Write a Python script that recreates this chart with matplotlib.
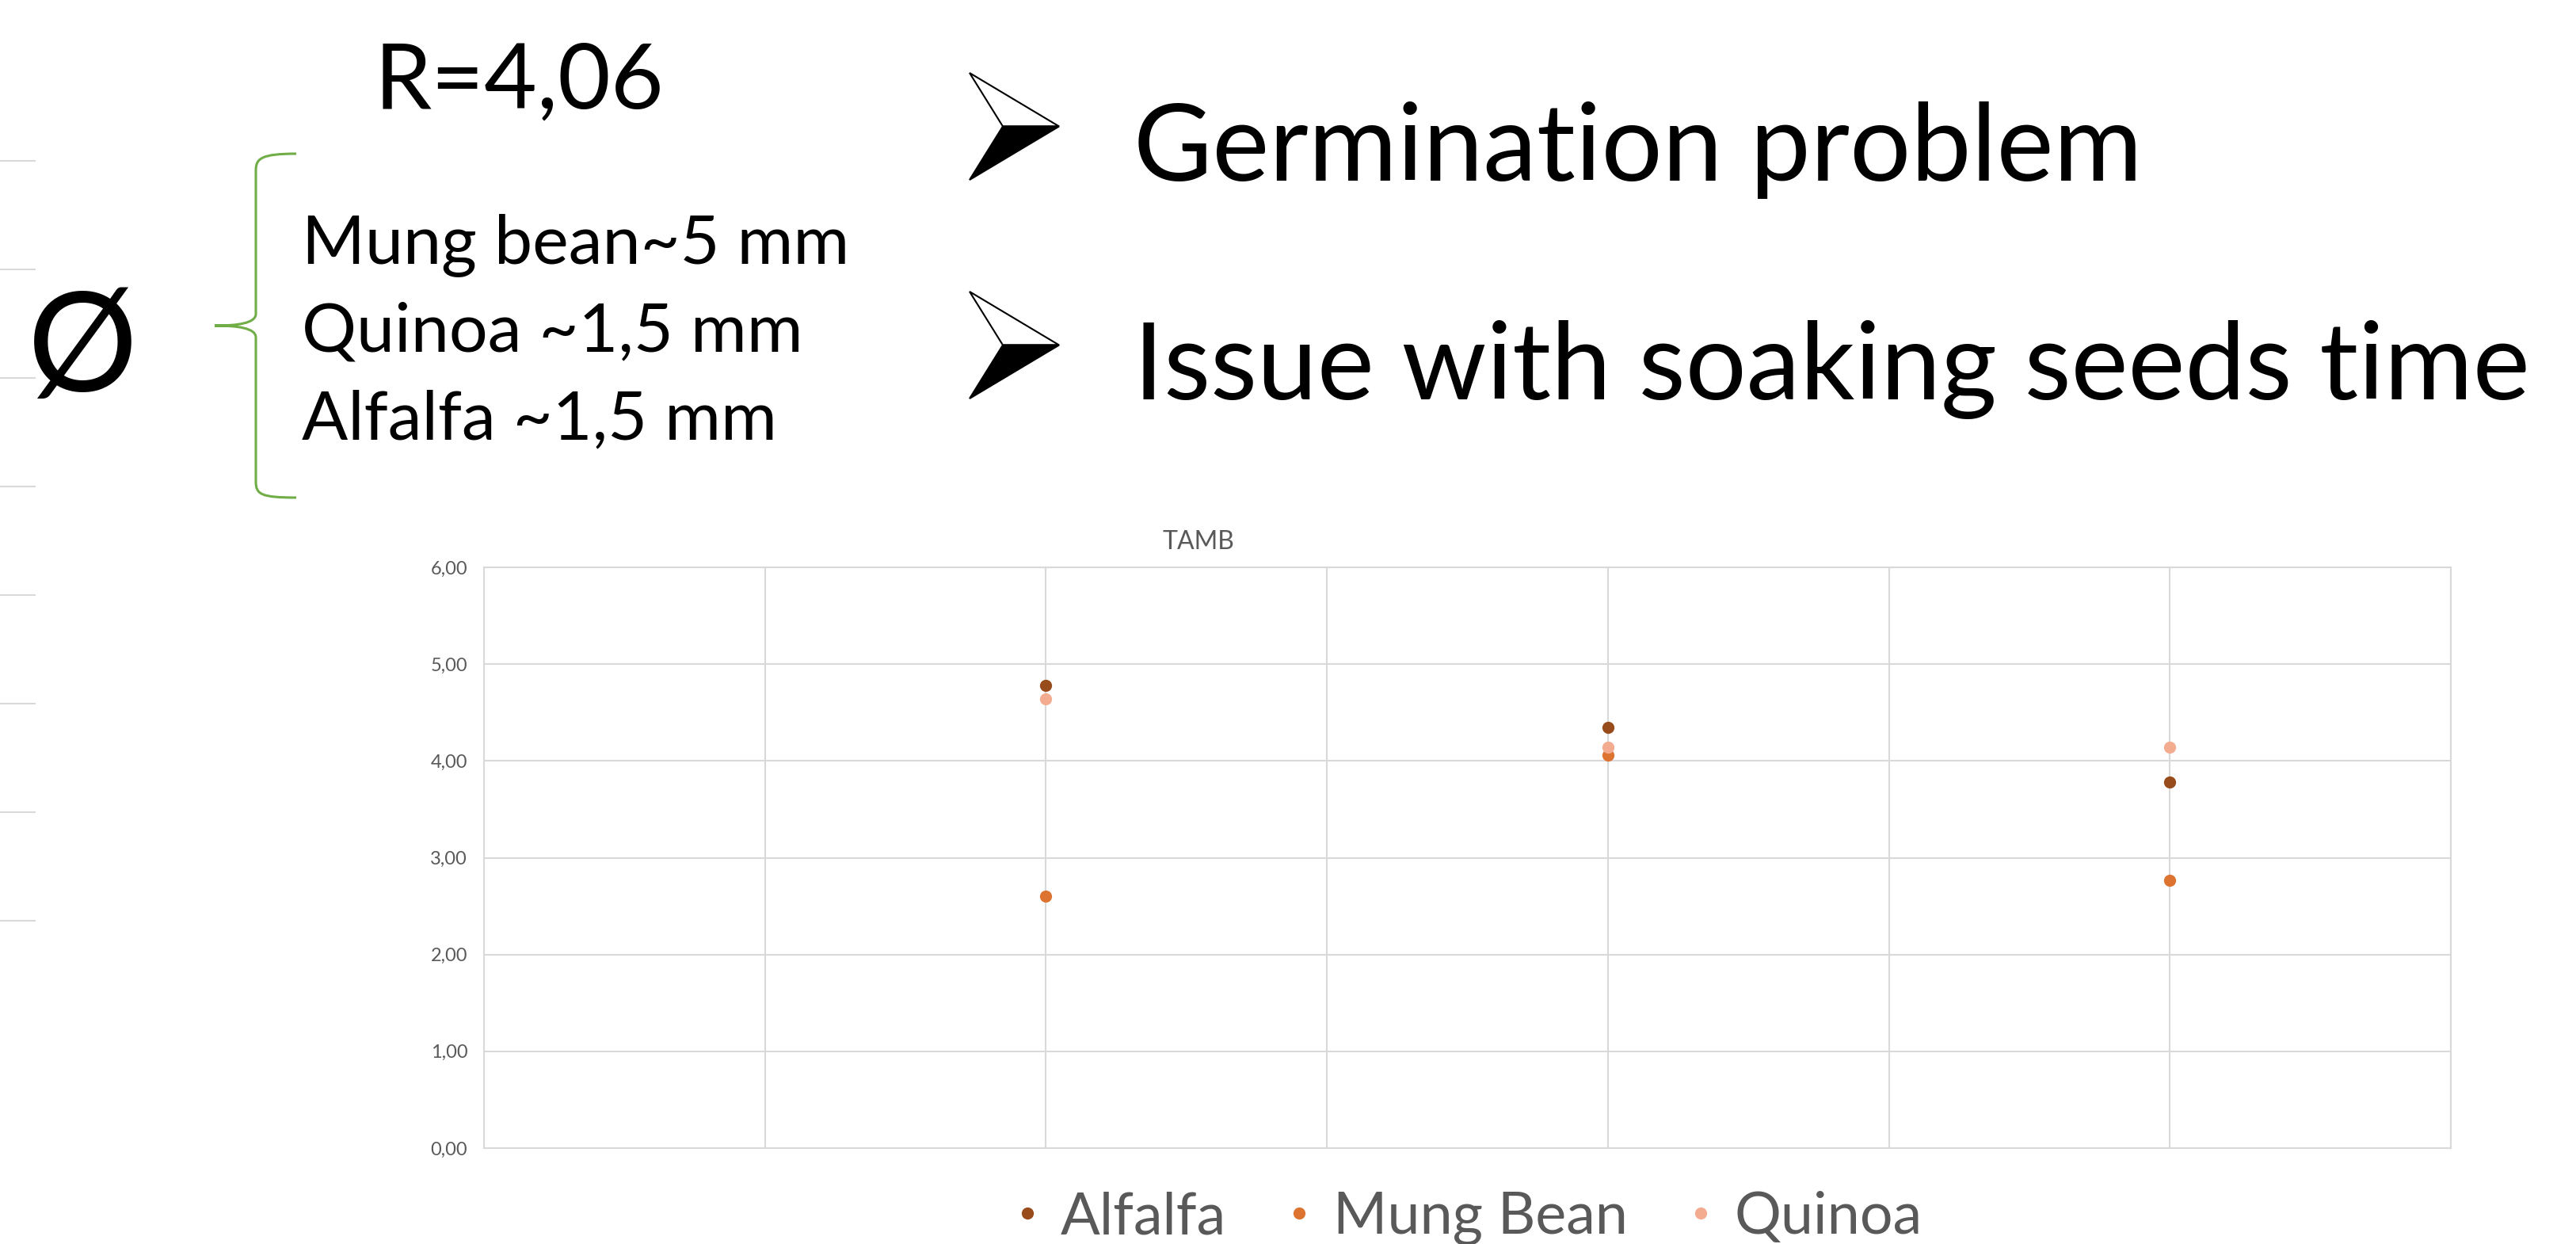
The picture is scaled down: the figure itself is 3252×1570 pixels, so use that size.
import matplotlib

matplotlib.use("Agg")
import matplotlib.pyplot as plt
import numpy as np
from matplotlib.patches import PathPatch, Polygon
from matplotlib.path import Path
from matplotlib.ticker import FuncFormatter

plt.rcParams["font.family"] = ["Lato", "DejaVu Sans"]

# ── Data ────────────────────────────────────────────────────────────────
series_names = ["Alfalfa", "Mung Bean", "Quinoa"]
series_colors = ["#984B1B", "#DC7331", "#F3AC90"]
x_positions = [1, 2, 3]
alfalfa = [4.78, 4.35, 3.78]
mung_bean = [2.60, 4.06, 2.77]
quinoa = [4.64, 4.14, 4.14]
y_ticks = [0, 1, 2, 3, 4, 5, 6]
x_grid = np.arange(0, 3.51, 0.5)

seed_sizes = ["Mung bean~5 mm", "Quinoa ~1,5 mm", "Alfalfa ~1,5 mm"]
bullets = ["Germination problem", "Issue with soaking seeds time"]
r_label = "R=4,06"

W, H = 3252, 1570
GRID = "#D9D9D9"
TEXT_GRAY = "#595959"
GREEN = "#70AD47"


def fx(x: float) -> float:
    return x / W


def fy(y: float) -> float:
    return 1 - y / H


fig = plt.figure(figsize=(W / 100, H / 100), dpi=100)
fig.patch.set_facecolor("white")

# ── Scatter chart ───────────────────────────────────────────────────────
ax = fig.add_axes([fx(611), fy(1449), (3094 - 611) / W, (1449 - 716) / H])
for name, color, vals in zip(series_names, series_colors, [alfalfa, mung_bean, quinoa]):
    ax.plot(x_positions, vals, linestyle="none", marker="o", markersize=11,
            markeredgewidth=0, color=color, label=name, zorder=3)

ax.set_xlim(0, 3.5)
ax.set_ylim(0, 6)
ax.set_xticks(x_grid)
ax.set_xticklabels([])
ax.set_yticks(y_ticks)
ax.yaxis.set_major_formatter(FuncFormatter(lambda v, _: f"{v:.2f}".replace(".", ",")))
ax.tick_params(length=0, labelsize=17, labelcolor=TEXT_GRAY, pad=15)
ax.grid(True, color=GRID, linewidth=1.5)
ax.set_axisbelow(True)
for sp in ax.spines.values():
    sp.set_color(GRID)
    sp.set_linewidth(1.5)

fig.text(fx(1513), fy(693), "TAMB", ha="center", va="baseline", fontsize=23, color=TEXT_GRAY)

ax.legend(loc="center", bbox_to_anchor=(0.5, -0.121), ncol=3, frameon=False,
          fontsize=53, labelcolor=TEXT_GRAY, handlelength=0.5, handletextpad=0.33,
          columnspacing=1.0, borderaxespad=0)

# ── Cut-off gridlines of a neighbouring chart at the left edge ─────────
stub_levels = list(range(8))
ax_stub = fig.add_axes([0, fy(1162 + 68.5), fx(45), (1162 - 203 + 137) / H])
ax_stub.set_ylim(-0.5, 7.5)
ax_stub.set_yticks(stub_levels)
ax_stub.set_xticks([])
ax_stub.tick_params(length=0, labelleft=False)
ax_stub.grid(True, axis="y", color=GRID, linewidth=1.5)
for sp in ax_stub.spines.values():
    sp.set_visible(False)
ax_stub.patch.set_alpha(0)

# ── Text block ──────────────────────────────────────────────────────────
fig.text(fx(655), fy(136), r_label, ha="center", va="baseline", fontsize=83, color="black")
fig.text(fx(104), fy(494), "Ø", ha="center", va="baseline", fontsize=125, color="black")

for i, line in enumerate(seed_sizes):
    fig.text(fx(381), fy(332 + i * 111), line, ha="left", va="baseline", fontsize=62, color="black")

# green curly brace
brace = [
    (374, 194), (330, 194), (323, 200), (323, 215),
    (323, 396),
    (323, 408), (300, 411), (271, 411),
    (300, 411), (323, 414), (323, 426),
    (323, 608),
    (323, 624), (330, 628), (374, 628),
]
codes = [Path.MOVETO, Path.CURVE4, Path.CURVE4, Path.CURVE4, Path.LINETO,
         Path.CURVE4, Path.CURVE4, Path.CURVE4, Path.CURVE4, Path.CURVE4, Path.CURVE4,
         Path.LINETO, Path.CURVE4, Path.CURVE4, Path.CURVE4]
brace_path = Path([(fx(x), fy(y)) for x, y in brace], codes)
fig.add_artist(PathPatch(brace_path, facecolor="none", edgecolor=GREEN, linewidth=2.2,
                         transform=fig.transFigure))

# bullet arrows + bullet text
for i, text in enumerate(bullets):
    top, bot = (92, 227) if i == 0 else (368, 503)
    mid = (top + bot) / 2
    x0, x1, xin = 1224, 1337, 1266
    upper = Polygon([(fx(x0), fy(top)), (fx(x1), fy(mid)), (fx(xin), fy(mid))], closed=True,
                    facecolor="white", edgecolor="black", linewidth=1.5, transform=fig.transFigure)
    lower = Polygon([(fx(xin), fy(mid)), (fx(x1), fy(mid)), (fx(x0), fy(bot))], closed=True,
                    facecolor="black", edgecolor="black", linewidth=1.5, transform=fig.transFigure)
    fig.add_artist(upper)
    fig.add_artist(lower)
    base = 228 if i == 0 else 504
    fig.text(fx(1431), fy(base), text, ha="left", va="baseline", fontsize=98, color="black")

fig.savefig("out.png", dpi=100, facecolor="white")
